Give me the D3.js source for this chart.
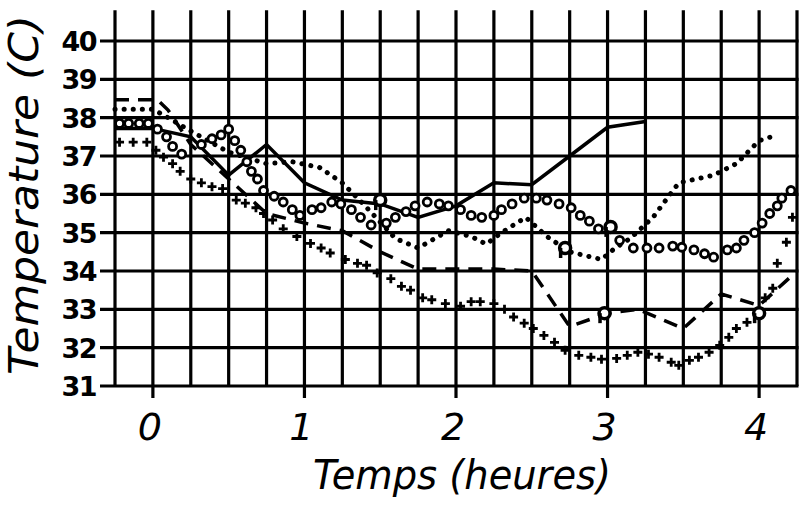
<!DOCTYPE html>
<html>
<head>
<meta charset="utf-8">
<script src="https://cdn.jsdelivr.net/npm/d3@7"></script>
<style>
  body { margin: 0; background: #fff; }
  svg { display: block; }
  .grid { stroke: #000; stroke-width: 3.2; }
  .ylab { font-family: 'DejaVu Sans', sans-serif; font-weight: bold; font-size: 27px; }
  .xlab { font-family: 'DejaVu Sans', sans-serif; font-style: italic; font-size: 38px; }
  .title { font-family: 'DejaVu Sans', sans-serif; font-style: italic; font-size: 40px; }
</style>
</head>
<body>
<svg width="802" height="506"></svg>
<script>
// tick values
const xTicks = [0, 1, 2, 3, 4]
const yTicks = [31, 32, 33, 34, 35, 36, 37, 38, 39, 40]
const xGrid = d3.range(-0.25, 4.26, 0.25)

// series: [heures, temperature]
const solid = [[-0.25,37.72],[0,37.72],[0.25,37.5],[0.5,36.5],[0.75,37.3],[1,36.3],[1.25,35.85],[1.5,35.75],
  [1.75,35.4],[2,35.7],[2.25,36.3],[2.5,36.25],[2.75,37.0],[3,37.75],[3.25,37.9]]

const dashed = [[-0.25,38.47],[0.03,38.47],[0.1,38.2],[0.25,37.3],[0.5,36.4],[0.75,35.5],[1,35.25],[1.25,35.05],
  [1.5,34.5],[1.75,34.05],[2,34.05],[2.25,34.05],[2.5,34.0],[2.75,32.55],[3,32.9],[3.2,33.0],[3.5,32.5],
  [3.75,33.4],[4,33.1],[4.25,34.0]]

const dotted = [[-0.25,38.22],[0,38.22],[0.1,38.0],[0.25,37.65],[0.5,37.1],[0.75,36.8],[0.92,36.85],[1.1,36.7],
  [1.25,36.3],[1.4,35.7],[1.6,34.85],[1.75,34.6],[1.95,35.05],[2.1,34.9],[2.2,34.7],[2.3,35.0],[2.46,35.4],
  [2.6,34.9],[2.75,34.5],[2.96,34.3],[3.05,34.6],[3.15,34.85],[3.3,35.4],[3.47,36.3],[3.7,36.5],[3.85,36.8],
  [4.0,37.4],[4.12,37.55]]

const rings = [[-0.22,37.85],[-0.16,37.85],[-0.09,37.85],[-0.03,37.85],[0.03,37.7],[0.09,37.5],[0.13,37.25],
  [0.19,37.05],[0.32,37.3],[0.39,37.45],[0.45,37.55],[0.5,37.7],[0.54,37.4],[0.58,37.15],[0.62,36.85],
  [0.65,36.6],[0.69,36.4],[0.73,36.1],[0.8,35.95],[0.86,35.8],[0.92,35.6],[0.97,35.45],[1.05,35.6],
  [1.11,35.65],[1.18,35.8],[1.24,35.75],[1.31,35.6],[1.37,35.4],[1.44,35.2],[1.54,35.25],[1.6,35.4],
  [1.67,35.55],[1.73,35.7],[1.81,35.8],[1.89,35.75],[1.95,35.7],[2.03,35.6],[2.1,35.45],[2.17,35.4],
  [2.25,35.45],[2.3,35.6],[2.37,35.75],[2.45,35.9],[2.53,35.9],[2.6,35.85],[2.68,35.75],[2.76,35.65],
  [2.82,35.45],[2.88,35.3],[2.94,35.1],[3.08,34.8],[3.17,34.6],[3.26,34.6],[3.34,34.6],[3.43,34.65],
  [3.49,34.62],[3.57,34.55],[3.64,34.45],[3.7,34.36],[3.79,34.55],[3.85,34.6],[3.9,34.8],[3.97,35.0],
  [4.02,35.25],[4.07,35.5],[4.12,35.7],[4.15,35.9],[4.21,36.1]]

const crosses = [[-0.22,37.36],[-0.13,37.36],[-0.04,37.36],[0.02,37.15],[0.07,36.97],[0.13,36.8],[0.18,36.6],
  [0.25,36.4],[0.32,36.3],[0.39,36.2],[0.46,36.15],[0.55,35.85],[0.61,35.77],[0.68,35.65],[0.73,35.5],
  [0.79,35.33],[0.86,35.1],[0.95,34.9],[1.04,34.72],[1.11,34.6],[1.17,34.47],[1.27,34.3],[1.35,34.2],
  [1.41,34.15],[1.48,33.95],[1.57,33.8],[1.64,33.6],[1.7,33.5],[1.78,33.3],[1.84,33.25],[1.93,33.15],
  [2.03,33.08],[2.1,33.2],[2.16,33.2],[2.25,33.15],[2.32,33.0],[2.38,32.8],[2.45,32.64],[2.51,32.5],
  [2.58,32.32],[2.65,32.14],[2.72,31.93],[2.81,31.8],[2.89,31.75],[2.96,31.7],[3.06,31.72],[3.13,31.8],
  [3.2,31.88],[3.27,31.83],[3.34,31.75],[3.42,31.62],[3.47,31.54],[3.54,31.67],[3.6,31.75],[3.67,31.88],
  [3.74,32.06],[3.8,32.27],[3.85,32.5],[3.92,32.66],[4.04,33.3],[4.09,33.55],[4.12,34.2],[4.18,34.75],
  [4.22,35.4]]

// the little "p" shaped marks
const pMarks = [[1.5,35.85],[3.02,35.15],[2.72,34.6],[2.98,32.9],[4.0,32.9]]

const svg = d3.select('svg')

// scales
const x = d3.scaleLinear().domain([-0.25, 4.25]).range([115, 797])
const y = d3.scaleLinear().domain([31, 40]).range([386, 41])

// grid: verticals every quarter hour, horizontals every degree
svg.append('g')
  .selectAll('line.v')
  .data(xGrid)
  .enter()
  .append('line')
  .attr('class', 'grid')
  .attr('x1', d => x(d)).attr('x2', d => x(d))
  .attr('y1', y(40.8)).attr('y2', d => xTicks.includes(Math.round(d * 100) / 100) ? 398 : y(31))

svg.append('g')
  .selectAll('line.h')
  .data(yTicks)
  .enter()
  .append('line')
  .attr('class', 'grid')
  .attr('x1', 100).attr('x2', x(4.25) + 1.5)
  .attr('y1', d => y(d)).attr('y2', d => y(d))

// tick labels
svg.append('g')
  .selectAll('text')
  .data(yTicks)
  .enter()
  .append('text')
  .attr('class', 'ylab')
  .attr('x', 96)
  .attr('y', d => y(d) + 10)
  .attr('text-anchor', 'end')
  .attr('letter-spacing', -1.5)
  .text(d => d)

svg.append('g')
  .selectAll('text')
  .data(xTicks)
  .enter()
  .append('text')
  .attr('class', 'xlab')
  .attr('x', d => x(d) - 3)
  .attr('y', 440)
  .attr('text-anchor', 'middle')
  .text(d => d)

// axis titles
svg.append('text')
  .attr('class', 'title')
  .attr('x', 462)
  .attr('y', 489)
  .attr('text-anchor', 'middle')
  .attr('textLength', 298)
  .attr('lengthAdjust', 'spacingAndGlyphs')
  .text('Temps (heures)')

svg.append('text')
  .attr('class', 'title')
  .attr('transform', 'translate(38,195) rotate(-90)')
  .attr('text-anchor', 'middle')
  .attr('textLength', 360)
  .attr('lengthAdjust', 'spacingAndGlyphs')
  .text('Temperature (C)')

const line = d3.line()
  .x(d => x(d[0]))
  .y(d => y(d[1]))

// solid line
svg.append('path')
  .datum(solid)
  .attr('d', line)
  .attr('fill', 'none')
  .attr('stroke', '#000')
  .attr('stroke-width', 3.5)

// dashed line
svg.append('path')
  .datum(dashed)
  .attr('d', line)
  .attr('fill', 'none')
  .attr('stroke', '#000')
  .attr('stroke-width', 3.5)
  .attr('stroke-dasharray', '14,9')

// dotted line (round dots)
svg.append('path')
  .datum(dotted)
  .attr('d', line)
  .attr('fill', 'none')
  .attr('stroke', '#000')
  .attr('stroke-width', 5)
  .attr('stroke-linecap', 'round')
  .attr('stroke-dasharray', '0.1,9')

// open rings
svg.append('g')
  .selectAll('circle')
  .data(rings)
  .enter()
  .append('circle')
  .attr('cx', d => x(d[0]))
  .attr('cy', d => y(d[1]))
  .attr('r', 4)
  .attr('fill', '#fff')
  .attr('stroke', '#000')
  .attr('stroke-width', 2.8)

// crosses
svg.append('g')
  .selectAll('path')
  .data(crosses)
  .enter()
  .append('path')
  .attr('transform', d => `translate(${x(d[0])},${y(d[1])})`)
  .attr('d', 'M-4.5,0H4.5M0,-4.5V4.5')
  .attr('stroke', '#000')
  .attr('stroke-width', 2.8)

// "p" marks
const pm = svg.append('g')
  .selectAll('g')
  .data(pMarks)
  .enter()
  .append('g')
  .attr('transform', d => `translate(${x(d[0])},${y(d[1])})`)

pm.append('circle')
  .attr('r', 5.5)
  .attr('fill', '#fff')
  .attr('stroke', '#000')
  .attr('stroke-width', 3.5)

pm.append('line')
  .attr('x1', -4.5).attr('x2', -4.5)
  .attr('y1', 0).attr('y2', 10)
  .attr('stroke', '#000')
  .attr('stroke-width', 3.5)
</script>
</body>
</html>
